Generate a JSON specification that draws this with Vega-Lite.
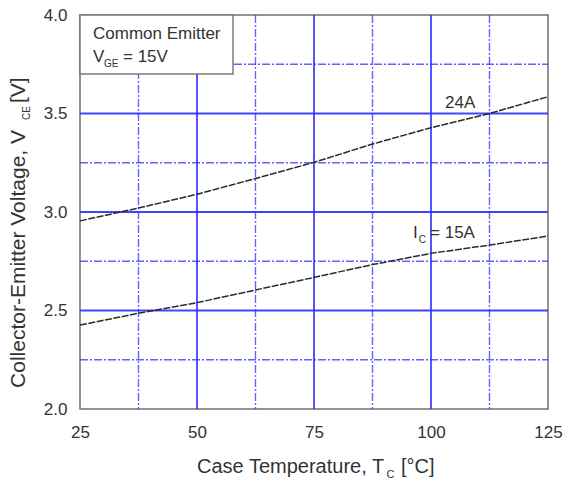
{
  "$schema": "https://vega.github.io/schema/vega-lite/v6.json",
  "autosize": "none",
  "width": 468,
  "height": 394,
  "padding": {"left": 80, "top": 15, "right": 15, "bottom": 72},
  "config": {
    "view": {"stroke": "#707070", "strokeWidth": 1.5},
    "font": "Liberation Sans",
    "text": {"font": "Liberation Sans", "color": "#333333"}
  },
  "datasets": {
    "curves": [
      {"T": 25, "V": 2.955, "I": "24A"},
      {"T": 37.5, "V": 3.02, "I": "24A"},
      {"T": 50, "V": 3.09, "I": "24A"},
      {"T": 62.5, "V": 3.17, "I": "24A"},
      {"T": 75, "V": 3.252, "I": "24A"},
      {"T": 87.5, "V": 3.345, "I": "24A"},
      {"T": 100, "V": 3.428, "I": "24A"},
      {"T": 112.5, "V": 3.5, "I": "24A"},
      {"T": 125, "V": 3.585, "I": "24A"},
      {"T": 25, "V": 2.426, "I": "15A"},
      {"T": 37.5, "V": 2.486, "I": "15A"},
      {"T": 50, "V": 2.54, "I": "15A"},
      {"T": 62.5, "V": 2.604, "I": "15A"},
      {"T": 75, "V": 2.668, "I": "15A"},
      {"T": 87.5, "V": 2.733, "I": "15A"},
      {"T": 100, "V": 2.79, "I": "15A"},
      {"T": 112.5, "V": 2.832, "I": "15A"},
      {"T": 125, "V": 2.878, "I": "15A"}
    ],
    "vgrid": [
      {"T": 37.5, "kind": "minor"}, {"T": 50, "kind": "major"}, {"T": 62.5, "kind": "minor"},
      {"T": 75, "kind": "major"}, {"T": 87.5, "kind": "minor"}, {"T": 100, "kind": "major"},
      {"T": 112.5, "kind": "minor"}
    ],
    "hgrid": [
      {"V": 2.25, "kind": "minor"}, {"V": 2.5, "kind": "major"}, {"V": 2.75, "kind": "minor"},
      {"V": 3.0, "kind": "major"}, {"V": 3.25, "kind": "minor"}, {"V": 3.5, "kind": "major"},
      {"V": 3.75, "kind": "minor"}
    ],
    "box": [{"T1": 25, "T2": 57.7, "V1": 3.7, "V2": 4.0}],
    "labels": [
      {"T": 27.78, "V": 3.878, "txt": "Common Emitter", "role": "main"},
      {"T": 27.78, "V": 3.761, "txt": "V", "role": "main"},
      {"T": 30.13, "V": 3.736, "txt": "GE", "role": "sub"},
      {"T": 34.19, "V": 3.761, "txt": "= 15V", "role": "main"},
      {"T": 103.0, "V": 3.528, "txt": "24A", "role": "main"},
      {"T": 96.15, "V": 2.868, "txt": "I", "role": "main"},
      {"T": 97.4, "V": 2.843, "txt": "C", "role": "sub"},
      {"T": 99.8, "V": 2.868, "txt": "= 15A", "role": "main"},
      {"T": 50.0, "V": 1.675, "txt": "Case Temperature, T", "role": "xtitle"},
      {"T": 90.5, "V": 1.652, "txt": "C", "role": "xsub"},
      {"T": 93.6, "V": 1.675, "txt": "[°C]", "role": "xtitle"},
      {"T": 13.25, "V": 2.107, "txt": "Collector-Emitter Voltage, V", "role": "ytitle"},
      {"T": 14.32, "V": 3.467, "txt": "CE", "role": "ysub"},
      {"T": 13.25, "V": 3.553, "txt": "[V]", "role": "ytitle"}
    ]
  },
  "encoding": {
    "x": {"field": "T", "type": "quantitative"},
    "y": {"field": "V", "type": "quantitative"}
  },
  "layer": [
    {
      "data": {"name": "vgrid"},
      "mark": {"type": "rule", "color": "#2f2fff"},
      "encoding": {
        "x": {
          "field": "T", "type": "quantitative",
          "scale": {"domain": [25, 125], "nice": false, "zero": false},
          "axis": {
            "values": [25, 50, 75, 100, 125], "grid": false, "ticks": false, "domain": false,
            "labelFont": "Liberation Sans", "labelFontSize": 17, "labelColor": "#333333",
            "labelPadding": 15, "labelFlush": false, "title": null
          }
        },
        "y": {"value": 0},
        "y2": {"value": 394},
        "strokeDash": {
          "field": "kind", "type": "nominal", "legend": null,
          "scale": {"domain": ["major", "minor"], "range": [[1, 0], [8, 2, 2, 2]]}
        },
        "strokeWidth": {
          "field": "kind", "type": "nominal", "legend": null,
          "scale": {"domain": ["major", "minor"], "range": [1.8, 1.4]}
        },
        "opacity": {
          "field": "kind", "type": "nominal", "legend": null,
          "scale": {"domain": ["major", "minor"], "range": [0.9, 0.75]}
        }
      }
    },
    {
      "data": {"name": "hgrid"},
      "mark": {"type": "rule", "color": "#2f2fff"},
      "encoding": {
        "y": {
          "field": "V", "type": "quantitative",
          "scale": {"domain": [2, 4], "nice": false, "zero": false},
          "axis": {
            "values": [2.0, 2.5, 3.0, 3.5, 4.0], "format": ".1f", "grid": false, "ticks": false, "domain": false,
            "labelFont": "Liberation Sans", "labelFontSize": 17, "labelColor": "#333333",
            "labelPadding": 13, "labelFlush": false, "title": null
          }
        },
        "x": {"value": 0},
        "x2": {"value": 468},
        "strokeDash": {
          "field": "kind", "type": "nominal", "legend": null,
          "scale": {"domain": ["major", "minor"], "range": [[1, 0], [8, 2, 2, 2]]}
        },
        "strokeWidth": {
          "field": "kind", "type": "nominal", "legend": null,
          "scale": {"domain": ["major", "minor"], "range": [1.8, 1.4]}
        },
        "opacity": {
          "field": "kind", "type": "nominal", "legend": null,
          "scale": {"domain": ["major", "minor"], "range": [0.9, 0.75]}
        }
      }
    },
    {
      "data": {"name": "curves"},
      "mark": {"type": "line", "color": "#2a2a2a", "strokeWidth": 1.5, "strokeDash": [7, 1.5]},
      "encoding": {
        "detail": {"field": "I", "type": "nominal"}
      }
    },
    {
      "data": {"name": "box"},
      "mark": {"type": "rect", "fill": "white", "stroke": "#7a7a7a", "strokeWidth": 1.5},
      "encoding": {
        "x": {"field": "T1", "type": "quantitative"},
        "x2": {"field": "T2"},
        "y": {"field": "V1", "type": "quantitative"},
        "y2": {"field": "V2"}
      }
    },
    {
      "data": {"name": "labels"},
      "transform": [{"filter": "datum.role === 'main'"}],
      "mark": {"type": "text", "align": "left", "baseline": "alphabetic", "fontSize": 17},
      "encoding": {"text": {"field": "txt"}}
    },
    {
      "data": {"name": "labels"},
      "transform": [{"filter": "datum.role === 'sub'"}],
      "mark": {"type": "text", "align": "left", "baseline": "alphabetic", "fontSize": 10},
      "encoding": {"text": {"field": "txt"}}
    },
    {
      "data": {"name": "labels"},
      "transform": [{"filter": "datum.role === 'xtitle'"}],
      "mark": {"type": "text", "align": "left", "baseline": "alphabetic", "fontSize": 20},
      "encoding": {"text": {"field": "txt"}}
    },
    {
      "data": {"name": "labels"},
      "transform": [{"filter": "datum.role === 'xsub'"}],
      "mark": {"type": "text", "align": "left", "baseline": "alphabetic", "fontSize": 11},
      "encoding": {"text": {"field": "txt"}}
    },
    {
      "data": {"name": "labels"},
      "transform": [{"filter": "datum.role === 'ytitle'"}],
      "mark": {"type": "text", "align": "left", "baseline": "alphabetic", "fontSize": 21, "angle": 270},
      "encoding": {"text": {"field": "txt"}}
    },
    {
      "data": {"name": "labels"},
      "transform": [{"filter": "datum.role === 'ysub'"}],
      "mark": {"type": "text", "align": "left", "baseline": "alphabetic", "fontSize": 10, "angle": 270},
      "encoding": {"text": {"field": "txt"}}
    }
  ]
}
